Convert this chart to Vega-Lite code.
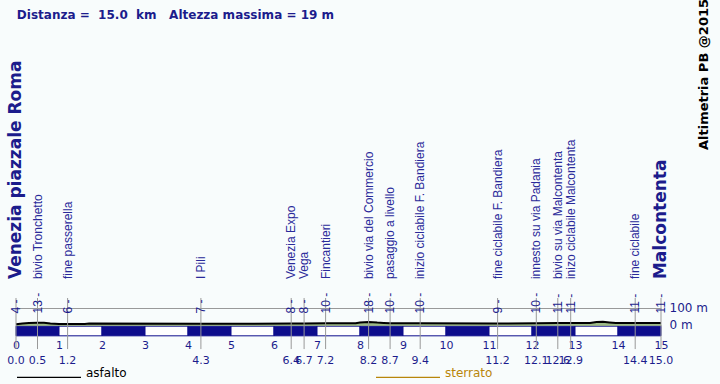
{
  "$schema": "https://vega.github.io/schema/vega-lite/v6.json",
  "width": 645,
  "height": 306,
  "autosize": {"type": "none"},
  "padding": {"left": 16, "top": 30, "right": 59, "bottom": 48},
  "background": "#f8fcfc",
  "config": {
    "view": {"stroke": null},
    "axis": {"labelFont": "DejaVu Sans", "labelColor": "#1c1c8c"}
  },
  "datasets": {
    "km": [
      {"start": 0, "end": 1}, {"start": 1, "end": 2}, {"start": 2, "end": 3},
      {"start": 3, "end": 4}, {"start": 4, "end": 5}, {"start": 5, "end": 6},
      {"start": 6, "end": 7}, {"start": 7, "end": 8}, {"start": 8, "end": 9},
      {"start": 9, "end": 10}, {"start": 10, "end": 11}, {"start": 11, "end": 12},
      {"start": 12, "end": 13}, {"start": 13, "end": 14}, {"start": 14, "end": 15}
    ],
    "profile": [
      {"km": 0.0, "elev": 4, "surface": "asfalto"},
      {"km": 0.15, "elev": 8, "surface": "asfalto"},
      {"km": 0.3, "elev": 12, "surface": "asfalto"},
      {"km": 0.5, "elev": 13, "surface": "asfalto"},
      {"km": 0.65, "elev": 13, "surface": "asfalto"},
      {"km": 0.8, "elev": 9, "surface": "asfalto"},
      {"km": 1.0, "elev": 6, "surface": "asfalto"},
      {"km": 1.2, "elev": 6, "surface": "asfalto"},
      {"km": 1.6, "elev": 6, "surface": "asfalto"},
      {"km": 1.7, "elev": 8, "surface": "asfalto"},
      {"km": 4.3, "elev": 7, "surface": "asfalto"},
      {"km": 6.4, "elev": 8, "surface": "asfalto"},
      {"km": 6.7, "elev": 8, "surface": "asfalto"},
      {"km": 7.2, "elev": 10, "surface": "asfalto"},
      {"km": 7.9, "elev": 10, "surface": "asfalto"},
      {"km": 8.0, "elev": 15, "surface": "asfalto"},
      {"km": 8.2, "elev": 18, "surface": "asfalto"},
      {"km": 8.4, "elev": 14, "surface": "asfalto"},
      {"km": 8.55, "elev": 12, "surface": "asfalto"},
      {"km": 8.7, "elev": 10, "surface": "asfalto"},
      {"km": 9.4, "elev": 10, "surface": "asfalto"},
      {"km": 11.2, "elev": 9, "surface": "asfalto"},
      {"km": 12.1, "elev": 10, "surface": "asfalto"},
      {"km": 12.6, "elev": 11, "surface": "asfalto"},
      {"km": 12.9, "elev": 11, "surface": "asfalto"},
      {"km": 13.35, "elev": 11, "surface": "asfalto"},
      {"km": 13.5, "elev": 17, "surface": "asfalto"},
      {"km": 13.65, "elev": 19, "surface": "asfalto"},
      {"km": 13.8, "elev": 15, "surface": "asfalto"},
      {"km": 13.95, "elev": 11, "surface": "asfalto"},
      {"km": 14.4, "elev": 11, "surface": "asfalto"},
      {"km": 15.0, "elev": 11, "surface": "asfalto"}
    ],
    "points": [
      {"km": 0.0, "elev": 4, "name": "Venezia piazzale Roma", "big": true},
      {"km": 0.5, "elev": 13, "name": "bivio Tronchetto", "big": false},
      {"km": 1.2, "elev": 6, "name": "fine passerella", "big": false},
      {"km": 4.3, "elev": 7, "name": "I Pili", "big": false},
      {"km": 6.4, "elev": 8, "name": "Venezia Expo", "big": false},
      {"km": 6.7, "elev": 8, "name": "Vega", "big": false},
      {"km": 7.2, "elev": 10, "name": "Fincantieri", "big": false},
      {"km": 8.2, "elev": 18, "name": "bivio via del Commercio", "big": false},
      {"km": 8.7, "elev": 10, "name": "pasaggio a livello", "big": false},
      {"km": 9.4, "elev": 10, "name": "inizio ciclabile F. Bandiera", "big": false},
      {"km": 11.2, "elev": 9, "name": "fine ciclabile F. Bandiera", "big": false},
      {"km": 12.1, "elev": 10, "name": "innesto su via Padania", "big": false},
      {"km": 12.6, "elev": 11, "name": "bivio su via Malcontenta", "big": false},
      {"km": 12.9, "elev": 11, "name": "inizo ciclabile Malcontenta", "big": false},
      {"km": 14.4, "elev": 11, "name": "fine ciclabile", "big": false},
      {"km": 15.0, "elev": 11, "name": "Malcontenta", "big": true}
    ]
  },
  "layer": [
    {
      "data": {"name": "km"},
      "mark": {"type": "rect", "stroke": "#0d0d8c", "strokeWidth": 1},
      "encoding": {
        "x": {
          "field": "start", "type": "quantitative",
          "scale": {"domain": [0, 15], "nice": false, "zero": false},
          "axis": {
            "values": [0,1,2,3,4,5,6,7,8,9,10,11,12,13,14,15],
            "title": null, "grid": false, "ticks": false, "domain": false,
            "labelFontSize": 11, "labelPadding": 3, "labelFlush": false
          }
        },
        "x2": {"field": "end"},
        "y": {
          "datum": -7, "type": "quantitative",
          "scale": {"domain": [-64, 1715], "nice": false, "zero": false},
          "axis": {
            "orient": "right", "values": [0, 100], "title": null,
            "labelExpr": "datum.value + ' m'",
            "grid": true, "gridColor": "#999999", "gridWidth": 1,
            "ticks": false, "domain": false, "labelFontSize": 12, "labelPadding": 8
          }
        },
        "y2": {"datum": -63},
        "fill": {
          "condition": {"test": "datum.start % 2 == 0", "value": "#0d0d8c"},
          "value": "#ffffff"
        }
      }
    },
    {
      "data": {"name": "profile"},
      "mark": {"type": "area", "color": "#9dbb86", "interpolate": "linear"},
      "encoding": {
        "x": {"field": "km", "type": "quantitative"},
        "y": {"field": "elev", "type": "quantitative"},
        "y2": {"datum": -5}
      }
    },
    {
      "data": {"name": "profile"},
      "mark": {"type": "line", "strokeWidth": 2, "interpolate": "linear"},
      "encoding": {
        "x": {"field": "km", "type": "quantitative"},
        "y": {"field": "elev", "type": "quantitative"},
        "color": {
          "field": "surface", "type": "nominal",
          "scale": {"domain": ["asfalto", "sterrato"], "range": ["#000000", "#b8860b"]},
          "legend": {
            "title": null, "orient": "none", "legendX": 0, "legendY": 314,
            "direction": "horizontal", "symbolType": "stroke", "symbolSize": 4096,
            "symbolStrokeWidth": 1.2, "labelFont": "DejaVu Sans", "labelFontSize": 12,
            "labelOffset": 4, "columnPadding": 246, "labelBaseline": "alphabetic",
            "labelColor": {"expr": "datum.value == 'sterrato' ? '#b8860b' : '#000000'"}
          }
        }
      }
    },
    {
      "data": {"name": "points"},
      "mark": {"type": "rule", "color": "#999999", "strokeWidth": 1},
      "encoding": {
        "x": {"field": "km", "type": "quantitative"},
        "y": {"datum": 157},
        "y2": {"datum": -140}
      }
    },
    {
      "data": {"name": "points"},
      "transform": [{"calculate": "datum.elev + ' -'", "as": "elevLabel"}],
      "mark": {"type": "text", "angle": 270, "align": "left", "baseline": "middle", "font": "Liberation Sans", "fontSize": 12, "color": "#1c1c8c"},
      "encoding": {
        "x": {"field": "km", "type": "quantitative"},
        "y": {"datum": 67},
        "text": {"field": "elevLabel"}
      }
    },
    {
      "data": {"name": "points"},
      "transform": [{"filter": "!datum.big"}],
      "mark": {"type": "text", "angle": 270, "align": "left", "baseline": "middle", "font": "Liberation Sans", "fontSize": 12, "color": "#2a2a9a"},
      "encoding": {
        "x": {"field": "km", "type": "quantitative"},
        "y": {"datum": 267},
        "text": {"field": "name"}
      }
    },
    {
      "data": {"name": "points"},
      "transform": [{"filter": "datum.big"}],
      "mark": {"type": "text", "angle": 270, "align": "left", "baseline": "middle", "font": "DejaVu Sans", "fontWeight": "bold", "fontSize": 17, "color": "#1c1c8c"},
      "encoding": {
        "x": {"field": "km", "type": "quantitative"},
        "y": {"datum": 267},
        "text": {"field": "name"}
      }
    },
    {
      "data": {"name": "points"},
      "mark": {"type": "text", "align": "center", "baseline": "middle", "font": "DejaVu Sans", "fontSize": 11, "color": "#1c1c8c"},
      "encoding": {
        "x": {"field": "km", "type": "quantitative"},
        "y": {"datum": -209},
        "text": {"field": "km", "type": "quantitative", "format": ".1f"}
      }
    },
    {
      "data": {"values": [{"label": "Altimetria PB @2015"}]},
      "mark": {"type": "text", "angle": 270, "align": "left", "baseline": "middle", "font": "DejaVu Sans", "fontWeight": "bold", "fontSize": 13, "color": "#000000"},
      "encoding": {
        "x": {"datum": 16.0},
        "y": {"datum": 1017},
        "text": {"field": "label"}
      }
    },
    {
      "data": {"values": [{"label": "Distanza =\u00a0 15.0\u00a0 km\u00a0\u00a0 Altezza massima = 19 m"}]},
      "mark": {"type": "text", "align": "left", "baseline": "middle", "font": "DejaVu Sans", "fontWeight": "bold", "fontSize": 12, "color": "#1c1c8c"},
      "encoding": {
        "x": {"datum": 0.02},
        "y": {"datum": 1802},
        "text": {"field": "label"}
      }
    }
  ]
}
